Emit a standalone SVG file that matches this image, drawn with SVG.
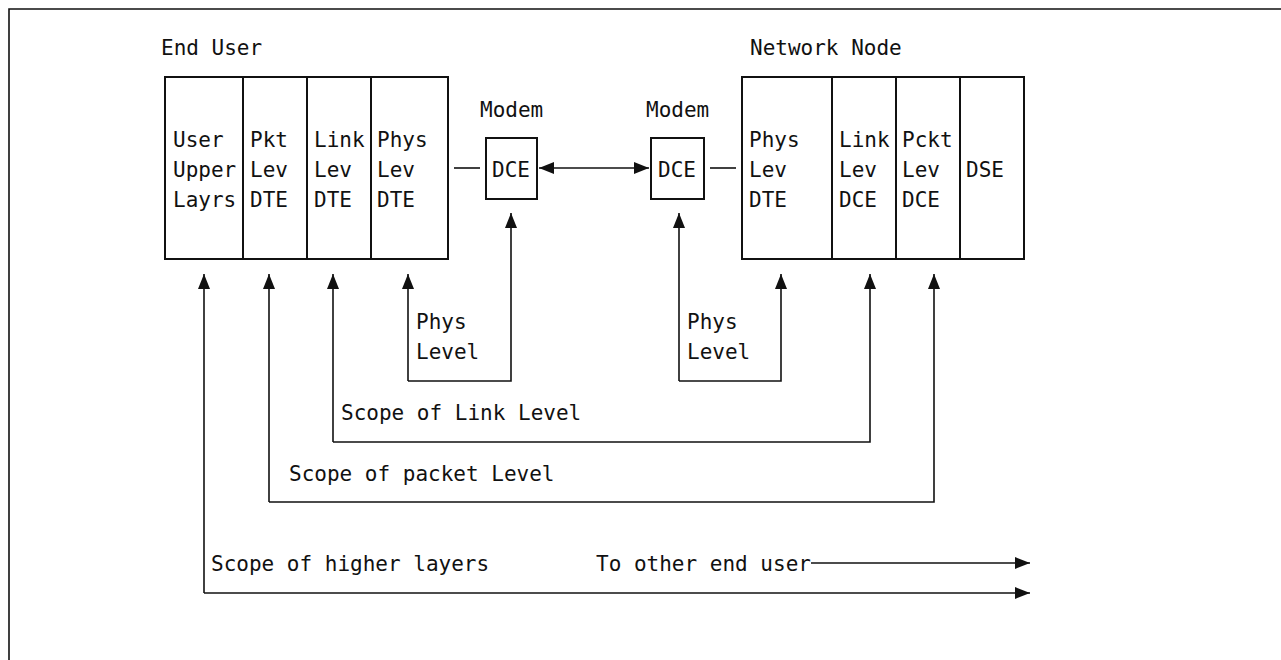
<svg xmlns="http://www.w3.org/2000/svg" width="1281" height="660" viewBox="0 0 1281 660">
<style>
text{font-family:"DejaVu Sans Mono","Liberation Mono",monospace;font-size:21px;fill:#111}
.box{fill:none;stroke:#111;stroke-width:2}
.ln{fill:none;stroke:#111;stroke-width:1.6}
.arr{fill:none;stroke:#111;stroke-width:1.6;marker-end:url(#ah)}
</style>
<defs>
<marker id="ah" markerUnits="userSpaceOnUse" markerWidth="15" markerHeight="12" refX="15" refY="6" orient="auto-start-reverse" viewBox="0 0 15 12">
<path d="M0,0 L15,6 L0,12 z" fill="#111"/>
</marker>
</defs>
<path d="M9,700 V9 H1290" class="ln"/>

<g id="end-user">
<text x="161" y="55">End User</text>
<rect x="165" y="77" width="283" height="182" class="box"/>
<path d="M243,77 V259 M307,77 V259 M371,77 V259" class="box"/>
<text x="173" y="147">User<tspan x="173" y="177">Upper</tspan><tspan x="173" y="207">Layrs</tspan></text>
<text x="250" y="147">Pkt<tspan x="250" y="177">Lev</tspan><tspan x="250" y="207">DTE</tspan></text>
<text x="314" y="147">Link<tspan x="314" y="177">Lev</tspan><tspan x="314" y="207">DTE</tspan></text>
<text x="377" y="147">Phys<tspan x="377" y="177">Lev</tspan><tspan x="377" y="207">DTE</tspan></text>
</g>

<g id="modem-left">
<text x="480" y="117">Modem</text>
<rect x="486" y="138" width="51" height="61" class="box"/>
<text x="492" y="177">DCE</text>
</g>

<g id="modem-right">
<text x="646" y="117">Modem</text>
<rect x="651" y="138" width="53" height="61" class="box"/>
<text x="658" y="177">DCE</text>
</g>

<g id="network-node">
<text x="750" y="55">Network Node</text>
<rect x="742" y="77" width="282" height="182" class="box"/>
<path d="M832,77 V259 M896,77 V259 M960,77 V259" class="box"/>
<text x="749" y="147">Phys<tspan x="749" y="177">Lev</tspan><tspan x="749" y="207">DTE</tspan></text>
<text x="839" y="147">Link<tspan x="839" y="177">Lev</tspan><tspan x="839" y="207">DCE</tspan></text>
<text x="902" y="147">Pckt<tspan x="902" y="177">Lev</tspan><tspan x="902" y="207">DCE</tspan></text>
<text x="966" y="177">DSE</text>
</g>

<g id="connectors">
<path d="M454,168 H480" class="ln"/>
<path d="M710,168 H736" class="ln"/>
<path d="M539,168 H649" class="arr" style="marker-start:url(#ah)"/>
<!-- left phys loop -->
<path d="M408,381 V274" class="arr"/>
<path d="M408,381 H511 V213" class="arr"/>
<!-- right phys loop -->
<path d="M679,381 V213" class="arr"/>
<path d="M679,381 H781 V274" class="arr"/>
<!-- link scope -->
<path d="M333,442 V274" class="arr"/>
<path d="M333,442 H870 V274" class="arr"/>
<!-- packet scope -->
<path d="M269,502 V274" class="arr"/>
<path d="M269,502 H934 V274" class="arr"/>
<!-- higher layers -->
<path d="M204,593 V274" class="arr"/>
<path d="M204,593 H1030" class="arr"/>
<path d="M811,563 H1030" class="arr"/>
</g>

<g id="labels">
<text x="416" y="329">Phys<tspan x="416" y="359">Level</tspan></text>
<text x="687" y="329">Phys<tspan x="687" y="359">Level</tspan></text>
<text x="341" y="420">Scope of Link Level</text>
<text x="289" y="481">Scope of packet Level</text>
<text x="211" y="571">Scope of higher layers</text>
<text x="596" y="571">To other end user</text>
</g>
</svg>
